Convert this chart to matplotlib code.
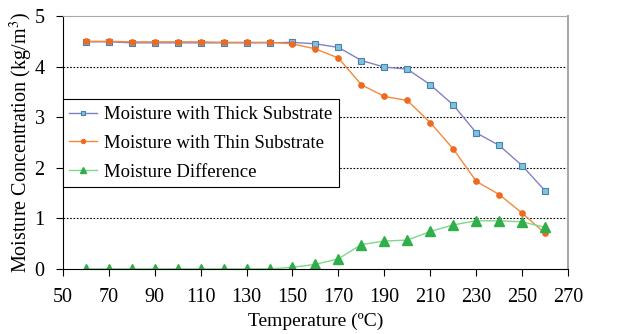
import matplotlib
matplotlib.use("Agg")
import matplotlib.pyplot as plt
import numpy as np

# data
temp = [60, 70, 80, 90, 100, 110, 120, 130, 140, 150, 160, 170, 180, 190, 200, 210, 220, 230, 240, 250, 260]
thick = [4.49, 4.49, 4.47, 4.47, 4.47, 4.47, 4.47, 4.47, 4.47, 4.48, 4.45, 4.38, 4.12, 3.99, 3.95, 3.64, 3.24, 2.69, 2.44, 2.04, 1.54]
thin = [4.50, 4.50, 4.49, 4.49, 4.49, 4.49, 4.48, 4.48, 4.48, 4.45, 4.35, 4.17, 3.64, 3.41, 3.33, 2.89, 2.37, 1.73, 1.47, 1.10, 0.70]
diff = [0, 0, 0, 0, 0, 0, 0, 0, 0, 0.03, 0.09, 0.20, 0.48, 0.55, 0.57, 0.74, 0.87, 0.95, 0.95, 0.93, 0.82]
xticks = list(range(50, 271, 20))

plt.rcParams['font.family'] = ['Liberation Serif', 'DejaVu Serif']
plt.rcParams['mathtext.fontset'] = 'stix'

fig = plt.figure(figsize=(6.21, 3.34), dpi=100)
ax = fig.add_axes([0.101, 0.195, 0.814, 0.757])

ax.plot(temp, thick, color='#7f82c8', lw=1.0, marker='s', ms=4.5,
        mfc='#7ec3dc', mec='#4a7fb0', mew=0.8, label='Moisture with Thick Substrate')
ax.plot(temp, thin, color='#f5893a', lw=1.0, marker='o', ms=3.8,
        mfc='#ee6a1e', mec='#ee6a1e', label='Moisture with Thin Substrate')
ax.plot(temp, diff, color='#7fd88a', lw=1.0, marker='^', ms=6.5,
        mfc='#2fae4a', mec='#2fae4a', label='Moisture Difference')

ax.set_xlim(50, 270)
ax.set_ylim(0, 5)
ax.set_xticks(xticks)
ax.set_yticks(range(0, 6))
ax.tick_params(labelsize=14.5, direction='out', length=5, width=0.8, pad=9)
ax.tick_params(axis='y', pad=8)
for y in range(1, 5):
    ax.axhline(y, color='black', lw=0.8, ls=(0, (1.5, 1.5)), zorder=0)

ax.spines['top'].set_color('#a8a8a8')
ax.spines['right'].set_color('#a8a8a8')
ax.spines['right'].set_linewidth(1.5)

ax.set_xlabel('Temperature (ºC)', fontsize=14, labelpad=4)
ax.set_ylabel('Moisture Concentration (kg/m$^3$)', fontsize=14.5, labelpad=0)

leg = ax.legend(loc='upper left', bbox_to_anchor=(0.0, 0.67), fontsize=13.5,
                frameon=True, fancybox=False, framealpha=1, edgecolor='black',
                handlelength=1.5, handletextpad=0.35, borderpad=0.35, labelspacing=0.62,
                borderaxespad=0, markerscale=0.75)
leg.get_frame().set_linewidth(0.8)

fig.savefig('out.png', dpi=100)
